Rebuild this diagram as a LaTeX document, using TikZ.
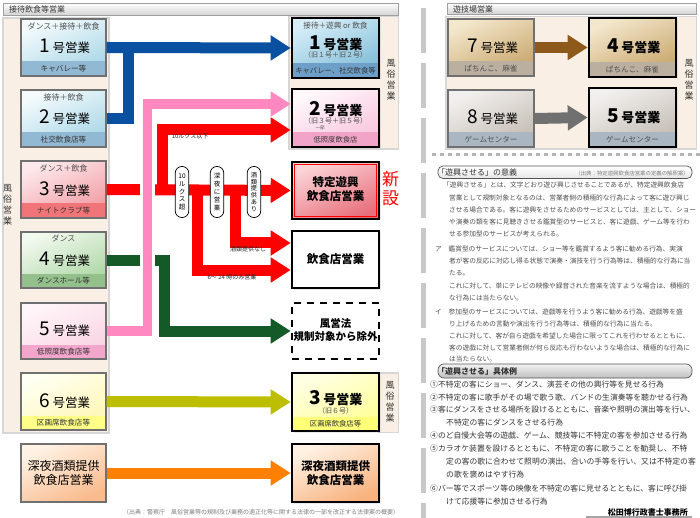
\documentclass[tikz,border=0pt]{standalone}
\usepackage{fontspec}
\setmainfont{Noto Sans CJK JP}
\usetikzlibrary{arrows.meta,calc,shadows}
\newcommand\fsz[1]{\fontsize{#1}{#1}\selectfont}
\definecolor{obord}{HTML}{707070}
\definecolor{framegray}{HTML}{D6D6D6}
\definecolor{beige}{HTML}{F9EFE4}
\definecolor{hdrbot}{HTML}{D4D4D4}
\definecolor{hdrbord}{HTML}{A0A0A0}
\definecolor{txtdark}{HTML}{333333}
\definecolor{labtxt}{HTML}{505050}
\definecolor{bodytxt}{HTML}{505050}
\definecolor{listtxt}{HTML}{333333}
\definecolor{bAtop}{HTML}{F4FBFD}\definecolor{bAbot}{HTML}{A9D6E6}\definecolor{bAstr}{HTML}{92B9D3}
\definecolor{bCtop}{HTML}{FDE9EC}\definecolor{bCbot}{HTML}{F19AA2}\definecolor{bCstr}{HTML}{F07478}
\definecolor{bDtop}{HTML}{F2F9EE}\definecolor{bDbot}{HTML}{ACD6A4}\definecolor{bDstr}{HTML}{94C08C}
\definecolor{bEtop}{HTML}{FFF6F9}\definecolor{bEbot}{HTML}{F9D2E2}\definecolor{bEstr}{HTML}{F2A6CC}
\definecolor{bFtop}{HTML}{FFFFF2}\definecolor{bFbot}{HTML}{FFF7B4}\definecolor{bFstr}{HTML}{FFFF88}
\definecolor{bGtop}{HTML}{FFF3E6}\definecolor{bGbot}{HTML}{F9BA8C}
\definecolor{nAtop}{HTML}{D6EEF8}\definecolor{nAbot}{HTML}{80BCD8}\definecolor{nAstr}{HTML}{6E9FC8}
\definecolor{nBtop}{HTML}{FFF8FB}\definecolor{nBbot}{HTML}{F8C4DC}\definecolor{nBstr}{HTML}{F2A4C8}
\definecolor{nCtop}{HTML}{FBD4D8}\definecolor{nCbot}{HTML}{E8707C}
\definecolor{nFtop}{HTML}{FFFFE4}\definecolor{nFbot}{HTML}{FFFF96}\definecolor{nFstr}{HTML}{FFFF78}
\definecolor{nGtop}{HTML}{FFF2E4}\definecolor{nGbot}{HTML}{F8B27E}
\definecolor{rAtop}{HTML}{F3E7CC}\definecolor{rAbot}{HTML}{C9A66C}\definecolor{rAstr}{HTML}{BBAF9F}
\definecolor{rBtop}{HTML}{F2F0EE}\definecolor{rBbot}{HTML}{C4BCB4}\definecolor{rBstr}{HTML}{AAB7C3}
\definecolor{blueA}{HTML}{0A50A0}
\definecolor{pinkA}{HTML}{FF88C0}
\definecolor{redA}{HTML}{FF0000}
\definecolor{greenA}{HTML}{145A28}
\definecolor{oliveA}{HTML}{BEBE00}
\definecolor{orangeA}{HTML}{FF8000}
\definecolor{brownA}{HTML}{8D5A1C}
\definecolor{grayA}{HTML}{707070}
\definecolor{sepgray}{HTML}{C8C8C8}
\definecolor{hdbord}{HTML}{555555}
\begin{document}
\begin{tikzpicture}[x=1pt,y=-1pt,
  obox/.style n args={3}{rectangle, draw=obord, line width=1.1pt, minimum width=85pt, inner sep=0pt,
    top color=#1, bottom color=#2, shading angle=25,
    path picture={\fill[#3] (path picture bounding box.south west) rectangle ([yshift=14.5pt]path picture bounding box.south east);}},
  oplain/.style 2 args={rectangle, draw=obord, line width=1.1pt, minimum width=85pt, inner sep=0pt,
    top color=#1, bottom color=#2, shading angle=25},
  nbox/.style n args={3}{rectangle, draw=black, line width=2.6pt, minimum width=87pt, inner sep=0pt,
    top color=#1, bottom color=#2, shading angle=25,
    drop shadow={shadow xshift=1.5pt, shadow yshift=-1.5pt, opacity=0.16},
    path picture={\fill[#3] (path picture bounding box.south west) rectangle ([yshift=14.5pt]path picture bounding box.south east);}},
  nplain/.style 2 args={rectangle, draw=black, line width=2.6pt, minimum width=87pt, inner sep=0pt,
    top color=#1, bottom color=#2, shading angle=25,
    drop shadow={shadow xshift=1.5pt, shadow yshift=-1.5pt, opacity=0.16}},
  lab/.style={inner sep=0pt, font=\fsz{8}, text=labtxt},
  slab/.style={inner sep=0pt, font=\fsz{7.6}, text=txtdark},
  mainlab/.style={inner sep=0pt, text=black},
  vt/.style={align=center, inner sep=0pt, font=\fontsize{9}{10.8}\selectfont, text=txtdark},
  arr/.style={line width=11pt, -{Triangle[length=20pt,width=24pt]}},
  badge/.style={draw=black, line width=0.7pt, fill=white, rounded corners=6.5pt, minimum width=13.5pt,
    minimum height=51pt, inner sep=0.5pt, align=center},
  rlab/.style={inner sep=0pt, font=\fsz{6}, text=black!85},
  bt/.style={anchor=west, inner sep=0pt, font=\fsz{6.7}, text=bodytxt},
  lt/.style={anchor=west, inner sep=0pt, font=\fsz{7.8}, text=listtxt}
]
\useasboundingbox (0,0) rectangle (700,518);
\fill[white] (0,0) rectangle (700,518);

% separators
\draw[sepgray, line width=5pt, dash pattern=on 45pt off 10pt] (423,8) -- (423,518);
\draw[sepgray!90!black, line width=3pt, dash pattern=on 4pt off 4pt] (432,155) -- (700,155);

% headers
\shade[top color=white, bottom color=hdrbot, draw=hdrbord, line width=0.8pt] (3,3) rectangle (398,15);
\node[anchor=west, inner sep=0pt, font=\fsz{8}, text=txtdark] (h1) at (9,9.5) {接待飲食等営業};
\shade[top color=white, bottom color=hdrbot, draw=hdrbord, line width=0.8pt] (447,3) rectangle (696,14);
\node[anchor=west, inner sep=0pt, font=\fsz{8}, text=txtdark] (h2) at (453,9) {遊技場営業};

% background panels
\fill[framegray] (2,17) rectangle (110,434);
\fill[beige] (4,19) rectangle (108,432);
\fill[framegray] (288,16) rectangle (399,150);
\fill[beige] (289.5,17.5) rectangle (397.5,148.5);
\fill[framegray] (378,372) rectangle (399,433);
\fill[beige] (379.5,373.5) rectangle (397.5,431.5);
\fill[framegray] (445,16) rectangle (697,150);
\fill[beige] (446.5,17.5) rectangle (695.5,148.5);

\node[vt] (fzL) at (7.5,205) {風\\俗\\営\\業};
\node[vt] (fzR1) at (391,80) {風\\俗\\営\\業};
\node[vt] (fzR2) at (390,402) {風\\俗\\営\\業};
\node[vt] (fzR3) at (689,80) {風\\俗\\営\\業};

% old boxes
\node[obox={bAtop}{bAbot}{bAstr}, minimum height=57pt] (B1) at (63.5,47.5) {};
\node[obox={bAtop}{bAbot}{bAstr}, minimum height=57pt] (B2) at (63.5,118.5) {};
\node[obox={bCtop}{bCbot}{bCstr}, minimum height=57pt] (B3) at (63.5,189.5) {};
\node[obox={bDtop}{bDbot}{bDstr}, minimum height=56pt] (B4) at (63.5,260) {};
\node[obox={bEtop}{bEbot}{bEstr}, minimum height=56pt] (B5) at (63.5,331) {};
\node[obox={bFtop}{bFbot}{bFstr}, minimum height=57pt] (B6) at (63.5,401.5) {};
\node[oplain={bGtop}{bGbot}, minimum height=58pt] (B7) at (63.5,473) {};

\node[lab] (B1t) at (63.5,26) {ダンス＋接待＋飲食};
\node[mainlab] (B1m) at (65,46) {\fsz{19}1\hspace{2pt}\fsz{12.5}号営業};
\node[slab] (B1s) at (63.5,69) {キャバレー等};
\node[lab] (B2t) at (63.5,97) {接待＋飲食};
\node[mainlab] (B2m) at (65,117) {\fsz{19}2\hspace{2pt}\fsz{12.5}号営業};
\node[slab] (B2s) at (63.5,140) {社交飲食店等};
\node[lab] (B3t) at (63.5,168) {ダンス＋飲食};
\node[mainlab] (B3m) at (65,189) {\fsz{19}3\hspace{2pt}\fsz{12.5}号営業};
\node[slab] (B3s) at (63.5,211) {ナイトクラブ等};
\node[lab] (B4t) at (63.5,238.5) {ダンス};
\node[mainlab] (B4m) at (65,259) {\fsz{19}4\hspace{2pt}\fsz{12.5}号営業};
\node[slab] (B4s) at (63.5,281) {ダンスホール等};
\node[mainlab] (B5m) at (65,329) {\fsz{19}5\hspace{2pt}\fsz{12.5}号営業};
\node[slab] (B5s) at (63.5,352) {低照度飲食店等};
\node[mainlab] (B6m) at (65,401) {\fsz{19}6\hspace{2pt}\fsz{12.5}号営業};
\node[slab] (B6s) at (63.5,423) {区画席飲食店等};
\node[mainlab, align=center, font=\fontsize{12}{14}\selectfont] (B7m) at (63.5,473) {深夜酒類提供\\飲食店営業};

% new boxes
\node[nbox={nAtop}{nAbot}{nAstr}, minimum height=60pt] (N1) at (335.5,48) {};
\node[nbox={nBtop}{nBbot}{nBstr}, minimum height=58pt] (N2) at (335.5,118) {};
\node[nplain={nCtop}{nCbot}, minimum height=57pt,
  path picture={\draw[redA, line width=1.5pt] ([shift={(2.6pt,2.6pt)}]path picture bounding box.south west) rectangle ([shift={(-2.6pt,-2.6pt)}]path picture bounding box.north east);}] (N3) at (335.5,190.5) {};
\node[nplain={white}{white}, minimum height=57pt] (N4) at (335.5,259.5) {};
\node[rectangle, draw=black, line width=2.6pt, dash pattern=on 7pt off 6pt, fill=white, minimum width=87pt, minimum height=56pt] (N5) at (335.5,331) {};
\node[nbox={nFtop}{nFbot}{nFstr}, minimum height=58pt] (N6) at (335.5,402) {};
\node[nplain={nGtop}{nGbot}, minimum height=58pt] (N7) at (335.5,473) {};

\node[lab, font=\fsz{7.6}] (N1t) at (335.5,26) {接待＋遊興 or 飲食};
\node[mainlab, font=\bfseries] (N1m) at (336,43) {\fsz{19}1\hspace{2pt}\fsz{13}号営業};
\node[lab, font=\fsz{7}] (N1b) at (335.5,54.5) {（旧１号＋旧２号）};
\node[slab, font=\fsz{7.3}] (N1s) at (335.5,71) {キャバレー、社交飲食等};
\node[mainlab, font=\bfseries] (N2m) at (336,109) {\fsz{19}2\hspace{2pt}\fsz{13}号営業};
\node[lab, font=\fsz{7}] (N2b) at (335.5,120.5) {（旧３号＋旧５号）};
\node[lab, font=\fsz{4.5}] (N2c) at (320,127.5) {一部};
\node[slab, font=\fsz{7.3}] (N2s) at (335.5,140) {低照度飲食店};
\node[mainlab, align=center, font=\bfseries\fontsize{11.5}{13.5}\selectfont] (N3m) at (335.5,189) {特定遊興\\飲食店営業};
\node[mainlab, font=\bfseries\fsz{11.5}] (N4m) at (335.5,259.5) {飲食店営業};
\node[mainlab, align=center, font=\bfseries\fontsize{10.5}{12.5}\selectfont] (N5m) at (335.5,330) {風営法\\規制対象から除外};
\node[mainlab, font=\bfseries] (N6m) at (336,398) {\fsz{19}3\hspace{2pt}\fsz{13}号営業};
\node[lab, font=\fsz{7}] (N6b) at (335.5,410.5) {（旧６号）};
\node[slab, font=\fsz{7.3}] (N6s) at (335.5,424) {区画席飲食店等};
\node[mainlab, align=center, font=\bfseries\fontsize{11.5}{13.5}\selectfont] (N7m) at (335.5,473) {深夜酒類提供\\飲食店営業};
\node[align=center, inner sep=0pt, text=redA, font=\fontsize{17}{19}\selectfont] (shin) at (390.5,189) {新\\設};

% right panel boxes
\node[obox={rAtop}{rAbot}{rAstr}, minimum width=86pt, minimum height=57pt] (R7) at (491,47.5) {};
\node[obox={rBtop}{rBbot}{rBstr}, minimum width=86pt, minimum height=57pt] (R8) at (491,118.5) {};
\node[nbox={rAtop}{rAbot}{rAstr}, minimum height=59pt] (R4) at (632.5,47.5) {};
\node[nbox={rBtop}{rBbot}{rBstr}, minimum height=59pt] (R5) at (632.5,117.5) {};
\node[mainlab] (R7m) at (493,46.5) {\fsz{19}7\hspace{2pt}\fsz{12.5}号営業};
\node[slab, text=labtxt] (R7s) at (491,69) {ぱちんこ、麻雀};
\node[mainlab] (R8m) at (493,117.5) {\fsz{19}8\hspace{2pt}\fsz{12.5}号営業};
\node[slab, text=labtxt] (R8s) at (491,140) {ゲームセンター};
\node[mainlab, font=\bfseries] (R4m) at (634,46) {\fsz{19}4\hspace{2pt}\fsz{13}号営業};
\node[slab, text=labtxt] (R4s) at (632.5,70) {ぱちんこ、麻雀};
\node[mainlab, font=\bfseries] (R5m) at (634,116.5) {\fsz{19}5\hspace{2pt}\fsz{13}号営業};
\node[slab, text=labtxt] (R5s) at (632.5,140) {ゲームセンター};

% connectors
\draw[arr, blueA] (B1.east) -- (N1.west);
\coordinate (bj) at ($(B1.east)+(22,0)$);
\draw[line width=11pt, blueA] (B2.east) -| (bj);

\coordinate (rj) at ($(B3.east)+(56,0)$);
\coordinate (ra) at ($(B3.east)+(91,0)$);
\coordinate (rb) at ($(B3.east)+(129,0)$);
\draw[arr, redA] (B3.east) -- (N3.west);
\draw[arr, redA] (rj) |- ([yshift=-12pt]N2.west);
\draw[arr, redA] (ra) |- ([yshift=-10.5pt]N4.west);
\draw[arr, redA] (rb) |- ([yshift=16.5pt]N4.west);

\draw[arr, greenA] (B4.east) -- ++(58,0) |- (N5.west);
\draw[arr, oliveA] (B6.east) -- (N6.west);
\draw[arr, orangeA] (B7.east) -- (N7.west);

\coordinate (pk) at ($(B5.east)+(41,0)$);
\coordinate (pn) at ([yshift=14pt]N2.west);
\draw[white, line width=15pt] (pk) -- (pk |- pn);
\draw[arr, pinkA, line width=9.5pt] (B5.east) -- (pk) |- (pn);

\draw[arr, brownA] (R7.east) -- (R4.west);
\draw[arr, grayA] (R8.east) -- (R5.west);

% badges and labels on red connectors
\node[badge, font=\fontsize{6.5}{7.8}\selectfont] (k1) at (182,192) {10\\ル\\ク\\ス\\超};
\node[badge, font=\fontsize{6.5}{7.8}\selectfont] (k2) at (217,192) {深\\夜\\に\\営\\業};
\node[badge, font=\fontsize{6.2}{6.8}\selectfont] (k3) at (254,192) {酒\\類\\提\\供\\あ\\り};
\node[rlab] (rl1) at (190,136.5) {10ルクス以下};
\node[rlab] (rl2) at (248,249.5) {酒類提供なし};
\node[rlab] (rl3) at (232,277) {6～ 24 時のみ営業};

% source
\node[anchor=west, inner sep=0pt, font=\fsz{6}, text=gray] (src) at (123,512) {（出典：警察庁　風俗営業等の規制及び業務の適正化等に関する法律の一部を改正する法律案の概要）};

% text panel
\draw[rounded corners=5pt, draw=hdbord, line width=0.7pt, top color=white, bottom color=black!10] (438,166) rectangle (692,178.5);
\node[anchor=west, inner sep=0pt, font=\fsz{8}, text=txtdark] (hA) at (437,172.5) {「遊興させる」の意義};
\node[anchor=east, inner sep=0pt, font=\fsz{5.4}, text=gray] (hAs) at (689,173) {（出典：特定遊興飲食店営業の定義の解釈案）};

\node[bt] (t1) at (443,185) {「遊興させる」とは、文字どおり遊び興じさせることであるが、特定遊興飲食店};
\node[bt] (t2) at (449,198) {営業として規制対象となるのは、営業者側の積極的な行為によって客に遊び興じ};
\node[bt] (t3) at (449,210) {させる場合である。客に遊興をさせるためのサービスとしては、主として、ショー};
\node[bt] (t4) at (449,222) {や演奏の類を客に見聴きさせる鑑賞型のサービスと、客に遊戯、ゲーム等を行わ};
\node[bt] (t5) at (449,234) {せる参加型のサービスが考えられる。};
\node[bt] (t6) at (435,249) {ア　鑑賞型のサービスについては、ショー等を鑑賞するよう客に勧める行為、実演};
\node[bt] (t7) at (449,261) {者が客の反応に対応し得る状態で演奏・演技を行う行為等は、積極的な行為に当};
\node[bt] (t8) at (449,273) {たる。};
\node[bt] (t9) at (449,286) {これに対して、単にテレビの映像や録音された音楽を流すような場合は、積極的};
\node[bt] (t10) at (449,298) {な行為には当たらない。};
\node[bt] (t11) at (435,312) {イ　参加型のサービスについては、遊戯等を行うよう客に勧める行為、遊戯等を盛};
\node[bt] (t12) at (449,324) {り上げるための言動や演出を行う行為等は、積極的な行為に当たる。};
\node[bt] (t13) at (449,336) {これに対して、客が自ら遊戯を希望した場合に限ってこれを行わせるとともに、};
\node[bt] (t14) at (449,348) {客の遊戯に対して営業者側が何ら反応も行わないような場合は、積極的な行為に};
\node[bt] (t15) at (449,359) {は当たらない。};

\draw[rounded corners=6pt, draw=hdbord, line width=0.7pt, top color=black!5, bottom color=black!25] (438,364) rectangle (692,378);
\node[anchor=west, inner sep=0pt, font=\bfseries\fsz{8}, text=txtdark] (hB) at (437,371) {「遊興させる」具体例};

\node[lt] (l1) at (430,385) {①不特定の客にショー、ダンス、演芸その他の興行等を見せる行為};
\node[lt] (l2) at (430,397.5) {②不特定の客に歌手がその場で歌う歌、バンドの生演奏等を聴かせる行為};
\node[lt] (l3) at (430,410) {③客にダンスをさせる場所を設けるとともに、音楽や照明の演出等を行い、};
\node[lt] (l4) at (446,422.5) {不特定の客にダンスをさせる行為};
\node[lt] (l5) at (430,435.5) {④のど自慢大会等の遊戯、ゲーム、競技等に不特定の客を参加させる行為};
\node[lt] (l6) at (430,448.5) {⑤カラオケ装置を設けるとともに、不特定の客に歌うことを勧奨し、不特};
\node[lt] (l7) at (446,461.5) {定の客の歌に合わせて照明の演出、合いの手等を行い、又は不特定の客};
\node[lt] (l8) at (446,474.5) {の歌を褒めはやす行為};
\node[lt] (l9) at (430,488.5) {⑥バー等でスポーツ等の映像を不特定の客に見せるとともに、客に呼び掛};
\node[lt] (l10) at (446,501.5) {けて応援等に参加させる行為};
\node[anchor=east, inner sep=0pt, font=\bfseries\fsz{8}, text=black] (sig) at (688,512) {松田博行政書士事務所};
\draw[black!35, line width=2pt] (586,517) -- (692,517);
\end{tikzpicture}
\end{document}
